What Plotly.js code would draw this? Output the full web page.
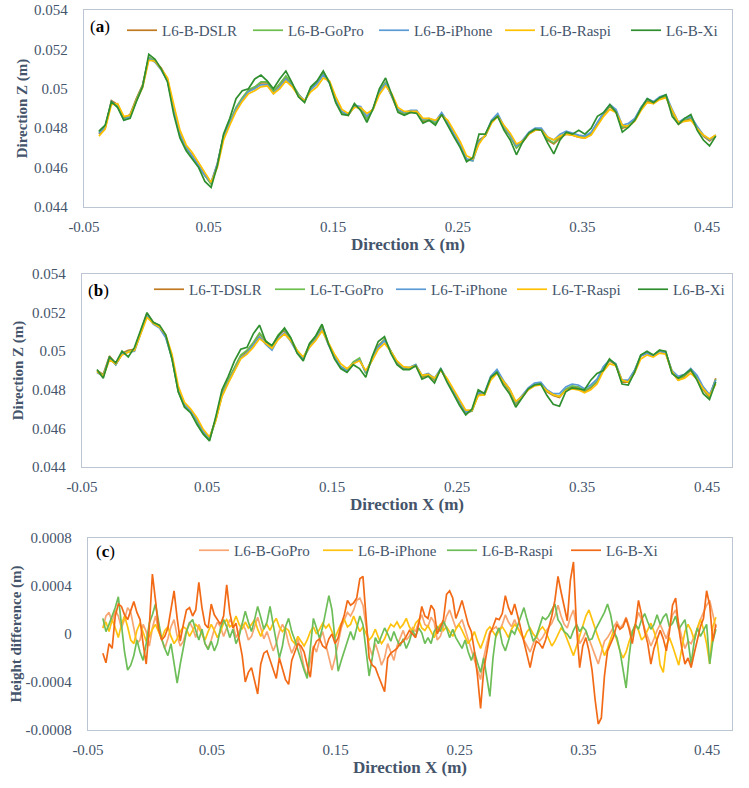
<!DOCTYPE html>
<html><head><meta charset="utf-8">
<script src="https://cdn.plot.ly/plotly-3.0.1.min.js"></script>
<style>html,body{margin:0;padding:0;background:#fff}#chart{width:749px;height:788px}</style>
</head><body><div id="chart"></div>
<script>
// ---------- shared x positions (m) ----------
const xProfile = [
-0.038,-0.033,-0.028,-0.023,-0.018,-0.013,-0.008,-0.003,0.002,0.007,
0.012,0.017,0.022,0.027,0.032,0.037,0.042,0.047,0.052,0.057,
0.062,0.067,0.072,0.077,0.082,0.087,0.092,0.097,0.102,0.107,
0.112,0.117,0.122,0.127,0.132,0.137,0.142,0.147,0.152,0.157,
0.162,0.167,0.172,0.177,0.182,0.187,0.192,0.197,0.202,0.207,
0.212,0.217,0.222,0.227,0.232,0.237,0.242,0.247,0.252,0.257,
0.262,0.267,0.272,0.277,0.282,0.287,0.292,0.297,0.302,0.307,
0.312,0.317,0.322,0.327,0.332,0.337,0.342,0.347,0.352,0.357,
0.362,0.367,0.372,0.377,0.382,0.387,0.392,0.397,0.402,0.407,
0.412,0.417,0.422,0.427,0.432,0.437,0.442,0.447,0.452,0.457];

// ---------- (a) bottom profiles, Direction Z (m) ----------
const zB_DSLR = [
0.04770,0.04800,0.04940,0.04920,0.04850,0.04870,0.04950,0.05020,0.05160,0.05140,
0.05105,0.05050,0.04900,0.04770,0.04700,0.04660,0.04610,0.04560,0.04520,0.04620,
0.04760,0.04830,0.04900,0.04950,0.04990,0.05005,0.05030,0.05030,0.04985,0.05020,
0.05060,0.05020,0.04970,0.04935,0.05000,0.05030,0.05080,0.05030,0.04940,0.04880,
0.04865,0.04910,0.04900,0.04850,0.04900,0.04990,0.05030,0.04960,0.04885,0.04870,
0.04880,0.04880,0.04835,0.04840,0.04825,0.04870,0.04820,0.04760,0.04710,0.04640,
0.04640,0.04740,0.04760,0.04830,0.04860,0.04800,0.04760,0.04700,0.04730,0.04770,
0.04790,0.04790,0.04740,0.04720,0.04750,0.04770,0.04765,0.04755,0.04750,0.04770,
0.04820,0.04870,0.04910,0.04880,0.04800,0.04810,0.04840,0.04900,0.04940,0.04925,
0.04950,0.04960,0.04880,0.04820,0.04840,0.04850,0.04800,0.04760,0.04735,0.04760];
const zB_GoPro = [
0.04780,0.04810,0.04930,0.04915,0.04845,0.04865,0.04945,0.05015,0.05160,0.05140,
0.05100,0.05045,0.04890,0.04760,0.04695,0.04650,0.04600,0.04555,0.04515,0.04615,
0.04755,0.04830,0.04905,0.04955,0.04995,0.05010,0.05035,0.05035,0.04990,0.05025,
0.05065,0.05025,0.04975,0.04935,0.05005,0.05035,0.05085,0.05035,0.04945,0.04880,
0.04865,0.04915,0.04905,0.04845,0.04895,0.04985,0.05035,0.04965,0.04890,0.04875,
0.04885,0.04885,0.04840,0.04845,0.04825,0.04875,0.04825,0.04765,0.04715,0.04640,
0.04635,0.04735,0.04760,0.04835,0.04865,0.04805,0.04760,0.04700,0.04730,0.04775,
0.04795,0.04795,0.04745,0.04725,0.04760,0.04775,0.04770,0.04760,0.04755,0.04775,
0.04825,0.04875,0.04915,0.04885,0.04805,0.04815,0.04845,0.04905,0.04945,0.04930,
0.04955,0.04965,0.04885,0.04825,0.04845,0.04855,0.04805,0.04765,0.04740,0.04765];
const zB_iPhone = [
0.04775,0.04805,0.04935,0.04910,0.04840,0.04860,0.04940,0.05010,0.05155,0.05135,
0.05095,0.05040,0.04895,0.04770,0.04705,0.04660,0.04610,0.04560,0.04525,0.04620,
0.04760,0.04825,0.04895,0.04945,0.04985,0.05000,0.05020,0.05020,0.04975,0.05010,
0.05050,0.05015,0.04970,0.04940,0.04995,0.05025,0.05070,0.05030,0.04945,0.04885,
0.04870,0.04915,0.04910,0.04860,0.04900,0.04985,0.05025,0.04965,0.04895,0.04880,
0.04890,0.04890,0.04845,0.04850,0.04835,0.04880,0.04830,0.04770,0.04715,0.04645,
0.04635,0.04730,0.04765,0.04840,0.04875,0.04810,0.04765,0.04710,0.04740,0.04780,
0.04800,0.04800,0.04755,0.04740,0.04770,0.04785,0.04775,0.04765,0.04760,0.04780,
0.04830,0.04880,0.04920,0.04895,0.04815,0.04825,0.04850,0.04905,0.04950,0.04935,
0.04960,0.04970,0.04895,0.04830,0.04850,0.04860,0.04810,0.04765,0.04740,0.04765];
const zB_Raspi = [
0.04760,0.04795,0.04920,0.04925,0.04860,0.04865,0.04940,0.05005,0.05145,0.05140,
0.05100,0.05055,0.04920,0.04790,0.04715,0.04675,0.04625,0.04575,0.04525,0.04600,
0.04740,0.04815,0.04885,0.04935,0.04975,0.04990,0.05010,0.05015,0.04975,0.05000,
0.05040,0.05010,0.04965,0.04940,0.04985,0.05010,0.05055,0.05040,0.04960,0.04895,
0.04875,0.04905,0.04905,0.04875,0.04895,0.04970,0.05015,0.04975,0.04905,0.04885,
0.04885,0.04885,0.04850,0.04850,0.04840,0.04865,0.04840,0.04785,0.04730,0.04660,
0.04645,0.04720,0.04765,0.04825,0.04860,0.04815,0.04775,0.04720,0.04735,0.04770,
0.04790,0.04790,0.04755,0.04740,0.04760,0.04770,0.04765,0.04755,0.04750,0.04765,
0.04810,0.04860,0.04895,0.04880,0.04815,0.04810,0.04835,0.04890,0.04930,0.04925,
0.04945,0.04955,0.04890,0.04830,0.04835,0.04840,0.04800,0.04765,0.04745,0.04765];
const zB_Xi = [
0.04785,0.04815,0.04935,0.04905,0.04840,0.04850,0.04935,0.05010,0.05175,0.05150,
0.05100,0.05035,0.04870,0.04750,0.04685,0.04640,0.04600,0.04530,0.04500,0.04610,
0.04770,0.04850,0.04950,0.04990,0.05000,0.05050,0.05070,0.05040,0.05000,0.05050,
0.05090,0.05030,0.04960,0.04930,0.05010,0.05040,0.05090,0.05030,0.04930,0.04870,
0.04865,0.04925,0.04890,0.04830,0.04900,0.05000,0.05055,0.04970,0.04880,0.04865,
0.04880,0.04875,0.04825,0.04840,0.04815,0.04870,0.04810,0.04755,0.04700,0.04630,
0.04650,0.04770,0.04770,0.04835,0.04860,0.04790,0.04740,0.04665,0.04730,0.04775,
0.04795,0.04790,0.04725,0.04670,0.04740,0.04780,0.04770,0.04790,0.04770,0.04800,
0.04860,0.04880,0.04920,0.04880,0.04780,0.04805,0.04840,0.04900,0.04950,0.04930,
0.04955,0.04970,0.04860,0.04820,0.04850,0.04870,0.04790,0.04740,0.04710,0.04760];

// ---------- (b) top profiles, Direction Z (m) ----------
const zT_DSLR = [
0.04900,0.04880,0.04975,0.04935,0.04990,0.05005,0.05010,0.05100,0.05195,0.05150,
0.05130,0.05080,0.04970,0.04800,0.04720,0.04690,0.04640,0.04580,0.04545,0.04650,
0.04780,0.04850,0.04915,0.04975,0.05000,0.05040,0.05090,0.05050,0.05020,0.05080,
0.05110,0.05060,0.05000,0.04960,0.05030,0.05070,0.05130,0.05040,0.04970,0.04920,
0.04900,0.04940,0.04960,0.04890,0.04960,0.05030,0.05060,0.05000,0.04940,0.04910,
0.04910,0.04925,0.04865,0.04875,0.04850,0.04905,0.04850,0.04790,0.04735,0.04680,
0.04690,0.04780,0.04775,0.04860,0.04895,0.04840,0.04795,0.04725,0.04760,0.04800,
0.04825,0.04830,0.04790,0.04770,0.04760,0.04800,0.04815,0.04810,0.04790,0.04810,
0.04840,0.04910,0.04950,0.04930,0.04840,0.04840,0.04895,0.04975,0.04990,0.04975,
0.05000,0.04990,0.04890,0.04850,0.04870,0.04900,0.04860,0.04800,0.04760,0.04860];
const zT_GoPro = [
0.04895,0.04875,0.04970,0.04930,0.04985,0.05000,0.05005,0.05095,0.05190,0.05145,
0.05125,0.05075,0.04960,0.04790,0.04715,0.04685,0.04630,0.04575,0.04540,0.04645,
0.04775,0.04850,0.04915,0.04980,0.05005,0.05045,0.05095,0.05055,0.05025,0.05085,
0.05115,0.05065,0.05005,0.04965,0.05035,0.05075,0.05135,0.05045,0.04975,0.04920,
0.04900,0.04945,0.04965,0.04885,0.04955,0.05025,0.05060,0.05000,0.04945,0.04915,
0.04915,0.04930,0.04870,0.04880,0.04855,0.04910,0.04855,0.04795,0.04740,0.04685,
0.04690,0.04775,0.04775,0.04865,0.04900,0.04845,0.04800,0.04730,0.04765,0.04805,
0.04830,0.04835,0.04795,0.04775,0.04765,0.04805,0.04820,0.04815,0.04795,0.04815,
0.04845,0.04915,0.04955,0.04935,0.04845,0.04845,0.04900,0.04980,0.04995,0.04980,
0.05005,0.04995,0.04895,0.04855,0.04875,0.04905,0.04865,0.04805,0.04765,0.04855];
const zT_iPhone = [
0.04890,0.04870,0.04965,0.04930,0.04985,0.04995,0.05000,0.05090,0.05185,0.05140,
0.05120,0.05070,0.04965,0.04800,0.04725,0.04690,0.04645,0.04585,0.04550,0.04645,
0.04770,0.04840,0.04905,0.04965,0.04990,0.05030,0.05075,0.05035,0.05005,0.05065,
0.05095,0.05050,0.04995,0.04960,0.05020,0.05060,0.05115,0.05035,0.04970,0.04920,
0.04895,0.04935,0.04955,0.04890,0.04955,0.05020,0.05055,0.05000,0.04945,0.04915,
0.04915,0.04930,0.04875,0.04885,0.04860,0.04910,0.04855,0.04795,0.04740,0.04685,
0.04695,0.04785,0.04785,0.04870,0.04905,0.04850,0.04805,0.04735,0.04770,0.04810,
0.04835,0.04840,0.04800,0.04780,0.04780,0.04815,0.04830,0.04825,0.04805,0.04825,
0.04855,0.04920,0.04955,0.04935,0.04850,0.04850,0.04900,0.04975,0.04990,0.04975,
0.05000,0.04990,0.04900,0.04870,0.04880,0.04910,0.04875,0.04815,0.04775,0.04850];
const zT_Raspi = [
0.04895,0.04870,0.04955,0.04935,0.04980,0.04995,0.05005,0.05085,0.05175,0.05145,
0.05125,0.05085,0.04985,0.04820,0.04735,0.04700,0.04655,0.04595,0.04555,0.04640,
0.04765,0.04835,0.04900,0.04960,0.04985,0.05020,0.05065,0.05040,0.05015,0.05060,
0.05090,0.05055,0.05005,0.04970,0.05020,0.05055,0.05105,0.05045,0.04985,0.04935,
0.04910,0.04935,0.04950,0.04900,0.04950,0.05010,0.05040,0.05000,0.04950,0.04920,
0.04915,0.04925,0.04875,0.04880,0.04860,0.04900,0.04860,0.04805,0.04750,0.04695,
0.04695,0.04770,0.04775,0.04850,0.04885,0.04845,0.04805,0.04740,0.04765,0.04800,
0.04820,0.04825,0.04795,0.04775,0.04765,0.04795,0.04805,0.04800,0.04785,0.04800,
0.04830,0.04895,0.04935,0.04925,0.04850,0.04840,0.04885,0.04960,0.04980,0.04970,
0.04990,0.04985,0.04895,0.04850,0.04860,0.04885,0.04855,0.04805,0.04770,0.04830];
const zT_Xi = [
0.04905,0.04860,0.04970,0.04940,0.05000,0.04970,0.05020,0.05110,0.05200,0.05150,
0.05135,0.05085,0.04960,0.04790,0.04710,0.04680,0.04620,0.04570,0.04535,0.04660,
0.04800,0.04870,0.04950,0.05010,0.05020,0.05090,0.05135,0.05050,0.05030,0.05080,
0.05120,0.05070,0.04990,0.04950,0.05040,0.05080,0.05140,0.05040,0.04960,0.04910,
0.04890,0.04930,0.04910,0.04865,0.04970,0.05050,0.05075,0.04990,0.04930,0.04905,
0.04905,0.04925,0.04855,0.04870,0.04835,0.04910,0.04840,0.04780,0.04720,0.04670,
0.04700,0.04800,0.04780,0.04865,0.04890,0.04825,0.04780,0.04710,0.04760,0.04805,
0.04825,0.04830,0.04770,0.04725,0.04715,0.04790,0.04810,0.04805,0.04800,0.04850,
0.04885,0.04900,0.04960,0.04930,0.04830,0.04825,0.04890,0.04980,0.05000,0.04980,
0.05005,0.05000,0.04885,0.04860,0.04880,0.04905,0.04850,0.04780,0.04750,0.04840];

// ---------- (c) height differences (m) ----------
const xDiff = [
-0.038,-0.0355,-0.033,-0.0305,-0.028,-0.0255,-0.023,-0.0205,-0.018,-0.0155,
-0.013,-0.0105,-0.008,-0.0055,-0.003,-0.0005,0.002,0.0045,0.007,0.0095,
0.012,0.0145,0.017,0.0195,0.022,0.0245,0.027,0.0295,0.032,0.0345,
0.037,0.0395,0.042,0.0445,0.047,0.0495,0.052,0.0545,0.057,0.0595,
0.062,0.0645,0.067,0.0695,0.072,0.0745,0.077,0.0795,0.082,0.0845,
0.087,0.0895,0.092,0.0945,0.097,0.0995,0.102,0.1045,0.107,0.1095,
0.112,0.1145,0.117,0.1195,0.122,0.1245,0.127,0.1295,0.132,0.1345,
0.137,0.1395,0.142,0.1445,0.147,0.1495,0.152,0.1545,0.157,0.1595,
0.162,0.1645,0.167,0.1695,0.172,0.1745,0.177,0.1795,0.182,0.1845,
0.187,0.1895,0.192,0.1945,0.197,0.1995,0.202,0.2045,0.207,0.2095,
0.212,0.2145,0.217,0.2195,0.222,0.2245,0.227,0.2295,0.232,0.2345,
0.237,0.2395,0.242,0.2445,0.247,0.2495,0.252,0.2545,0.257,0.2595,
0.262,0.2645,0.267,0.2695,0.272,0.2745,0.277,0.2795,0.282,0.2845,
0.287,0.2895,0.292,0.2945,0.297,0.2995,0.302,0.3045,0.307,0.3095,
0.312,0.3145,0.317,0.3195,0.322,0.3245,0.327,0.3295,0.332,0.3345,
0.337,0.3395,0.342,0.3445,0.347,0.3495,0.352,0.3545,0.357,0.3595,
0.362,0.3645,0.367,0.3695,0.372,0.3745,0.377,0.3795,0.382,0.3845,
0.387,0.3895,0.392,0.3945,0.397,0.3995,0.402,0.4045,0.407,0.4095,
0.412,0.4145,0.417,0.4195,0.422,0.4245,0.427,0.4295,0.432,0.4345,
0.437,0.4395,0.442,0.4445,0.447,0.4495,0.452,0.4545,0.457];
const dGoPro = [
0.5e-4,1.5e-4,1.8e-4,1.0e-4,2.0e-4,1.5e-4,0.5e-4,1.2e-4,2.2e-4,1.8e-4,
0.5e-4,-0.8e-4,-0.5e-4,0.8e-4,0.2e-4,-1.0e-4,0.5e-4,1.5e-4,0.3e-4,-0.5e-4,
-1.2e-4,-0.4e-4,0.6e-4,1.2e-4,-0.2e-4,-1.0e-4,-0.6e-4,0.3e-4,1.0e-4,0.5e-4,
-0.3e-4,0.8e-4,0.2e-4,-0.8e-4,-1.2e-4,-0.5e-4,0.4e-4,1.0e-4,0.6e-4,-0.2e-4,
0.5e-4,1.2e-4,0.8e-4,-0.3e-4,0.2e-4,0.9e-4,0.4e-4,-0.5e-4,-0.2e-4,0.6e-4,
1.4e-4,0.5e-4,-0.4e-4,0.2e-4,-0.6e-4,-1.4e-4,-0.8e-4,0.2e-4,0.8e-4,0.3e-4,
-0.8e-4,-1.6e-4,-1.0e-4,-0.4e-4,-1.5e-4,-2.8e-4,-3.5e-4,-2.2e-4,-1.0e-4,-1.5e-4,
-0.5e-4,0.2e-4,-0.8e-4,-1.8e-4,-3.0e-4,-2.0e-4,-0.6e-4,0.5e-4,1.2e-4,1.8e-4,
1.5e-4,2.0e-4,2.8e-4,3.0e-4,2.4e-4,0.6e-4,-1.0e-4,-1.8e-4,-0.8e-4,-1.6e-4,
-2.6e-4,-2.0e-4,-0.8e-4,-1.5e-4,-2.2e-4,-1.0e-4,-0.4e-4,0.3e-4,-0.5e-4,-0.2e-4,
0.5e-4,0.2e-4,1.0e-4,1.6e-4,0.8e-4,0.6e-4,1.4e-4,1.0e-4,-0.5e-4,-0.2e-4,
0.6e-4,1.5e-4,2.0e-4,1.2e-4,0.5e-4,0.8e-4,1.2e-4,0.4e-4,-0.5e-4,-1.2e-4,
-2.2e-4,-3.0e-4,-3.8e-4,-2.0e-4,-0.8e-4,0.2e-4,0.4e-4,0.6e-4,0.2e-4,0.8e-4,
1.6e-4,1.0e-4,0.6e-4,1.2e-4,0.5e-4,0.0,-0.5e-4,-1.0e-4,-1.5e-4,-0.8e-4,
-0.2e-4,-0.6e-4,-0.3e-4,0.2e-4,0.6e-4,0.9e-4,1.5e-4,2.4e-4,1.5e-4,0.8e-4,
0.5e-4,1.4e-4,2.0e-4,0.6e-4,-0.8e-4,-0.4e-4,0.2e-4,-0.4e-4,-1.2e-4,-1.8e-4,
-2.5e-4,-1.5e-4,-0.6e-4,-0.3e-4,0.2e-4,0.6e-4,1.0e-4,0.5e-4,0.8e-4,1.4e-4,
0.6e-4,-0.2e-4,0.8e-4,1.8e-4,1.2e-4,0.4e-4,-0.2e-4,-1.0e-4,-0.4e-4,0.3e-4,
0.8e-4,0.2e-4,-0.4e-4,0.5e-4,1.6e-4,2.0e-4,0.8e-4,-0.3e-4,-1.2e-4,-0.6e-4,
-0.8e-4,-0.2e-4,0.4e-4,1.2e-4,1.8e-4,2.4e-4,2.8e-4,1.5e-4,0.5e-4];
const dIPhone = [
0.5e-4,1.0e-4,0.2e-4,1.2e-4,0.5e-4,-0.3e-4,0.8e-4,1.5e-4,0.6e-4,-0.5e-4,-0.8e-4,0.3e-4,0.9e-4,0.2e-4,-0.6e-4,-0.2e-4,
0.4e-4,0.8e-4,0.2e-4,-0.4e-4,0.3e-4,0.6e-4,-0.2e-4,-0.8e-4,-0.4e-4,0.2e-4,0.6e-4,0.4e-4,-0.2e-4,0.3e-4,0.8e-4,0.5e-4,
0.0,-0.5e-4,0.2e-4,0.8e-4,0.3e-4,-0.3e-4,0.2e-4,0.9e-4,1.2e-4,0.6e-4,0.8e-4,1.5e-4,0.8e-4,0.4e-4,1.0e-4,0.5e-4,
0.8e-4,1.2e-4,0.4e-4,-0.2e-4,0.5e-4,0.8e-4,0.3e-4,0.9e-4,1.3e-4,0.6e-4,0.2e-4,0.5e-4,0.3e-4,-0.5e-4,-0.8e-4,-0.2e-4,
-0.6e-4,-1.0e-4,-0.5e-4,0.2e-4,0.6e-4,0.0,0.4e-4,0.9e-4,0.5e-4,0.8e-4,0.2e-4,-0.3e-4,0.3e-4,0.9e-4,1.2e-4,0.6e-4,
0.8e-4,1.5e-4,0.8e-4,0.2e-4,0.6e-4,0.0,-0.5e-4,-0.2e-4,0.4e-4,-0.3e-4,-0.8e-4,-0.4e-4,0.3e-4,0.8e-4,0.6e-4,1.0e-4,
0.5e-4,0.8e-4,1.3e-4,0.6e-4,0.2e-4,0.9e-4,1.2e-4,0.5e-4,0.3e-4,0.7e-4,0.2e-4,-0.3e-4,0.4e-4,0.8e-4,0.3e-4,0.6e-4,
0.2e-4,-0.2e-4,0.4e-4,0.8e-4,0.3e-4,-0.3e-4,-0.8e-4,-0.4e-4,0.2e-4,-0.6e-4,-1.2e-4,-0.5e-4,0.3e-4,0.6e-4,0.2e-4,-0.2e-4,
0.3e-4,0.6e-4,0.2e-4,-0.3e-4,0.4e-4,0.8e-4,0.5e-4,0.0,-0.4e-4,0.2e-4,0.5e-4,0.0,-0.3e-4,0.3e-4,0.6e-4,0.2e-4,
-0.4e-4,-1.0e-4,-0.6e-4,0.0,0.5e-4,0.2e-4,-0.5e-4,-1.2e-4,-1.8e-4,-1.0e-4,-0.2e-4,0.8e-4,1.5e-4,2.0e-4,1.2e-4,0.5e-4,
-0.3e-4,-1.0e-4,-1.8e-4,-1.2e-4,-0.4e-4,0.3e-4,-0.5e-4,-1.4e-4,-2.0e-4,-1.5e-4,-0.6e-4,0.2e-4,0.8e-4,0.3e-4,-0.5e-4,-0.2e-4,
0.4e-4,0.9e-4,0.2e-4,-0.6e-4,-2.6e-4,-3.2e-4,-1.0e-4,-0.3e-4,-1.0e-4,-1.8e-4,-2.6e-4,-1.2e-4,0.2e-4,0.8e-4,0.3e-4,-0.5e-4,
0.5e-4,1.2e-4,0.4e-4,-0.8e-4,-2.5e-4,0.6e-4,1.4e-4];
const dRaspi = [
1.3e-4,0.2e-4,0.8e-4,1.5e-4,2.2e-4,3.1e-4,1.0e-4,-1.5e-4,-3.0e-4,-2.6e-4,
-1.8e-4,-0.5e-4,-1.5e-4,-2.2e-4,-0.8e-4,0.9e-4,1.6e-4,2.5e-4,1.0e-4,-0.4e-4,
-1.2e-4,-1.8e-4,-0.8e-4,-2.5e-4,-4.1e-4,-2.5e-4,-1.2e-4,0.2e-4,0.9e-4,1.2e-4,
0.3e-4,-0.5e-4,0.4e-4,-0.8e-4,-1.3e-4,-0.6e-4,-1.4e-4,-0.8e-4,0.5e-4,1.2e-4,
0.6e-4,-0.3e-4,0.4e-4,-0.8e-4,-0.2e-4,0.8e-4,1.9e-4,1.0e-4,0.2e-4,1.2e-4,
2.3e-4,1.4e-4,0.4e-4,1.0e-4,2.3e-4,0.8e-4,-0.6e-4,-2.0e-4,-1.0e-4,0.6e-4,
1.3e-4,0.2e-4,-0.5e-4,-1.4e-4,-2.2e-4,-3.0e-4,-3.7e-4,-1.0e-4,1.3e-4,0.5e-4,
-0.4e-4,0.6e-4,1.8e-4,3.2e-4,2.0e-4,-0.5e-4,-3.1e-4,-2.2e-4,-1.4e-4,-0.8e-4,
0.2e-4,-0.5e-4,0.6e-4,1.5e-4,0.8e-4,-1.2e-4,-3.5e-4,-2.0e-4,-0.3e-4,-0.8e-4,
-0.2e-4,0.5e-4,0.0,-0.6e-4,0.2e-4,-0.5e-4,-1.0e-4,-0.4e-4,-1.2e-4,-0.6e-4,
0.3e-4,-0.2e-4,0.5e-4,0.1e-4,-0.8e-4,-0.3e-4,-0.8e-4,0.2e-4,0.6e-4,0.2e-4,
1.1e-4,0.5e-4,-0.3e-4,0.4e-4,-0.3e-4,-0.8e-4,-1.2e-4,-0.5e-4,-1.5e-4,-2.2e-4,
-1.5e-4,-2.4e-4,-3.2e-4,-2.0e-4,-3.5e-4,-5.2e-4,-2.0e-4,0.0,0.5e-4,-0.8e-4,
-1.4e-4,-0.6e-4,0.3e-4,0.0,0.8e-4,1.5e-4,2.2e-4,1.2e-4,0.2e-4,-0.6e-4,
-0.2e-4,0.6e-4,1.4e-4,1.2e-4,1.5e-4,2.0e-4,2.5e-4,1.2e-4,0.8e-4,0.2e-4,
0.0,-0.4e-4,0.3e-4,0.8e-4,0.2e-4,0.6e-4,0.3e-4,-0.5e-4,-0.4e-4,0.3e-4,
0.8e-4,1.2e-4,1.8e-4,2.5e-4,1.6e-4,0.2e-4,-0.3e-4,-1.4e-4,-3.0e-4,-4.5e-4,
-1.8e-4,0.2e-4,0.8e-4,0.4e-4,1.2e-4,1.7e-4,1.0e-4,0.4e-4,0.8e-4,1.6e-4,
0.8e-4,1.4e-4,1.7e-4,0.6e-4,0.9e-4,1.5e-4,0.4e-4,0.8e-4,1.2e-4,-0.5e-4,
-2.5e-4,-0.6e-4,0.5e-4,-0.2e-4,0.3e-4,0.8e-4,-2.5e-4,-0.6e-4,0.4e-4];
const dXi = [
-1.6e-4,-2.4e-4,-0.8e-4,-1.2e-4,1.5e-4,2.5e-4,2.3e-4,1.6e-4,1.2e-4,2.0e-4,
2.7e-4,1.8e-4,1.2e-4,-0.8e-4,-2.5e-4,0.6e-4,5.0e-4,2.8e-4,0.4e-4,-0.5e-4,
-0.2e-4,0.5e-4,2.0e-4,3.6e-4,1.3e-4,-0.6e-4,0.8e-4,2.0e-4,2.2e-4,1.5e-4,
2.0e-4,4.3e-4,2.2e-4,0.8e-4,0.5e-4,2.5e-4,1.6e-4,1.2e-4,0.8e-4,1.5e-4,
4.1e-4,1.8e-4,0.5e-4,0.9e-4,-0.5e-4,-1.8e-4,-4.0e-4,-3.2e-4,-2.8e-4,-3.8e-4,
-5.0e-4,-2.5e-4,-1.6e-4,-1.4e-4,-2.2e-4,-3.0e-4,-3.7e-4,-2.0e-4,-3.0e-4,-3.8e-4,
-4.2e-4,-2.2e-4,-1.5e-4,-0.8e-4,-1.0e-4,-1.5e-4,-2.6e-4,-3.6e-4,-1.2e-4,-0.6e-4,
-0.4e-4,-1.0e-4,-1.2e-4,-0.4e-4,0.0,-0.8e-4,-0.3e-4,0.8e-4,1.6e-4,2.8e-4,
2.4e-4,2.6e-4,3.0e-4,4.6e-4,4.8e-4,1.5e-4,-2.0e-4,-2.6e-4,-2.8e-4,-3.5e-4,
-4.2e-4,-4.8e-4,-2.0e-4,-1.6e-4,-1.4e-4,-1.2e-4,-0.8e-4,-0.6e-4,-0.2e-4,0.3e-4,
0.0,-0.3e-4,0.8e-4,2.3e-4,1.5e-4,1.3e-4,2.4e-4,2.0e-4,0.0,0.6e-4,
1.2e-4,3.3e-4,3.6e-4,3.0e-4,1.3e-4,2.0e-4,2.8e-4,1.8e-4,0.8e-4,0.2e-4,
-1.4e-4,-3.5e-4,-6.2e-4,-3.0e-4,-1.5e-4,0.0,0.6e-4,1.3e-4,1.2e-4,1.7e-4,
3.2e-4,2.2e-4,1.6e-4,2.5e-4,1.5e-4,0.4e-4,-0.6e-4,-1.6e-4,-2.8e-4,-1.5e-4,
-0.6e-4,-0.8e-4,-1.2e-4,-0.5e-4,0.5e-4,1.5e-4,2.8e-4,4.8e-4,3.5e-4,2.2e-4,
1.1e-4,4.5e-4,6.0e-4,0.5e-4,-2.8e-4,-1.0e-4,-0.3e-4,-1.4e-4,-3.0e-4,-5.5e-4,
-7.5e-4,-7.0e-4,-3.5e-4,-1.4e-4,-0.8e-4,-0.2e-4,0.8e-4,0.4e-4,0.6e-4,1.3e-4,
0.4e-4,-0.8e-4,0.8e-4,2.8e-4,1.6e-4,0.2e-4,-0.8e-4,-2.5e-4,-1.2e-4,-0.4e-4,
0.3e-4,-0.4e-4,-1.4e-4,0.2e-4,2.4e-4,3.0e-4,0.5e-4,-1.2e-4,-2.5e-4,-2.0e-4,
-2.8e-4,-1.6e-4,-0.6e-4,0.6e-4,1.3e-4,3.6e-4,2.4e-4,-0.6e-4,0.8e-4];

// ---------- ticks ----------
const xTickVals = [-0.05,0.05,0.15,0.25,0.35,0.45];
const xTickText = ['-0.05','0.05','0.15','0.25','0.35','0.45'];
const zTickVals = [0.044,0.046,0.048,0.05,0.052,0.054];
const zTickText = ['0.044','0.046','0.048','0.05','0.052','0.054'];
const hTickVals = [-0.0008,-0.0004,0,0.0004,0.0008];
const hTickText = ['-0.0008','-0.0004','0','0.0004','0.0008'];

// ---------- styling ----------
const FONT = 'Liberation Serif, Times New Roman, serif';
const TXT = '#44546A';
const BOX = '#BCC6D3';
const W = 749, H = 788;
const px = v => v / W, py = v => 1 - v / H;

function lineTrace(x, y, name, color, xa, ya, lg) {
  return {type:'scatter', mode:'lines', x, y, name, xaxis:xa, yaxis:ya, legend:lg,
    line:{color, width:1.7}, hoverinfo:'skip'};
}
const traces = [
  lineTrace(xProfile, zB_DSLR,  'L6-B-DSLR',  '#BF7A22', 'x',  'y',  'legend'),
  lineTrace(xProfile, zB_GoPro, 'L6-B-GoPro', '#6CBE4E', 'x',  'y',  'legend'),
  lineTrace(xProfile, zB_iPhone,'L6-B-iPhone','#5B9BD5', 'x',  'y',  'legend'),
  lineTrace(xProfile, zB_Raspi, 'L6-B-Raspi', '#FFC000', 'x',  'y',  'legend'),
  lineTrace(xProfile, zB_Xi,    'L6-B-Xi',    '#2F8F2F', 'x',  'y',  'legend'),
  lineTrace(xProfile, zT_DSLR,  'L6-T-DSLR',  '#BF7A22', 'x2', 'y2', 'legend2'),
  lineTrace(xProfile, zT_GoPro, 'L6-T-GoPro', '#6CBE4E', 'x2', 'y2', 'legend2'),
  lineTrace(xProfile, zT_iPhone,'L6-T-iPhone','#5B9BD5', 'x2', 'y2', 'legend2'),
  lineTrace(xProfile, zT_Raspi, 'L6-T-Raspi', '#FFC000', 'x2', 'y2', 'legend2'),
  lineTrace(xProfile, zT_Xi,    'L6-B-Xi',    '#2F8F2F', 'x2', 'y2', 'legend2'),
  lineTrace(xDiff, dGoPro, 'L6-B-GoPro', '#F7A673', 'x3', 'y3', 'legend3'),
  lineTrace(xDiff, dIPhone,'L6-B-iPhone','#FFC20E', 'x3', 'y3', 'legend3'),
  lineTrace(xDiff, dRaspi, 'L6-B-Raspi', '#6DBE58', 'x3', 'y3', 'legend3'),
  lineTrace(xDiff, dXi,    'L6-B-Xi',    '#F26A16', 'x3', 'y3', 'legend3')
];

function xAxis(l, r, anchor) {
  return {domain:[px(l), px(r)], anchor, range:[-0.05, 0.47],
    tickvals:xTickVals, ticktext:xTickText, ticks:'', ticklabelstandoff:6,
    showgrid:false, zeroline:false, showline:true, mirror:true, linecolor:BOX, linewidth:1.3,
    tickfont:{family:FONT, size:15, color:TXT}, automargin:false, fixedrange:true,
    title:{text:'Direction X (m)', standoff:2, font:{family:FONT, size:17, color:TXT, weight:'bold'}}};
}
function yAxis(t, b, anchor, range, tv, tt, title, so) {
  return {domain:[py(b), py(t)], anchor, range,
    tickvals:tv, ticktext:tt, ticks:'', ticklabelstandoff:12,
    showgrid:false, zeroline:false, showline:true, mirror:true, linecolor:BOX, linewidth:1.3,
    tickfont:{family:FONT, size:15, color:TXT}, automargin:false, fixedrange:true,
    title:{text:title, standoff:so, font:{family:FONT, size:15, color:TXT, weight:'bold'}}};
}
function legendAt(l, t, ew) {
  return {orientation:'h', x:px(l), xanchor:'left', y:py(t), yanchor:'top',
    font:{family:FONT, size:15, color:TXT}, bgcolor:'rgba(0,0,0,0)', borderwidth:0,
    itemwidth:30, tracegroupgap:0, entrywidthmode:'pixels', entrywidth:ew};
}
function panelLabel(letter, l, yc) {
  return {xref:'paper', yref:'paper', x:px(l), y:py(yc), xanchor:'left', yanchor:'middle',
    text:'(<b>' + letter + '</b>)', showarrow:false, font:{family:FONT, size:17, color:'#000'}};
}

const layout = {
  width:W, height:H, margin:{l:0, r:0, t:0, b:0, autoexpand:false},
  paper_bgcolor:'#fff', plot_bgcolor:'#fff', showlegend:true,
  xaxis:  xAxis(84, 732, 'y'),
  yaxis:  yAxis(10, 207, 'x', [0.044, 0.054], zTickVals, zTickText, 'Direction Z (m)', 2),
  xaxis2: xAxis(82, 732, 'y2'),
  yaxis2: yAxis(274, 467, 'x2', [0.044, 0.054], zTickVals, zTickText, 'Direction Z (m)', 4),
  xaxis3: xAxis(88, 732, 'y3'),
  yaxis3: yAxis(538, 730, 'x3', [-0.0008, 0.0008], hTickVals, hTickText, 'Height difference (m)', 0),
  legend:  legendAt(122, 14, 81),
  legend2: legendAt(149, 273, 76),
  legend3: legendAt(194, 534, 79),
  annotations:[panelLabel('a', 88, 27), panelLabel('b', 86, 290), panelLabel('c', 94, 551)]
};

Plotly.newPlot('chart', traces, layout, {staticPlot:true, displayModeBar:false});
</script>
</body></html>
